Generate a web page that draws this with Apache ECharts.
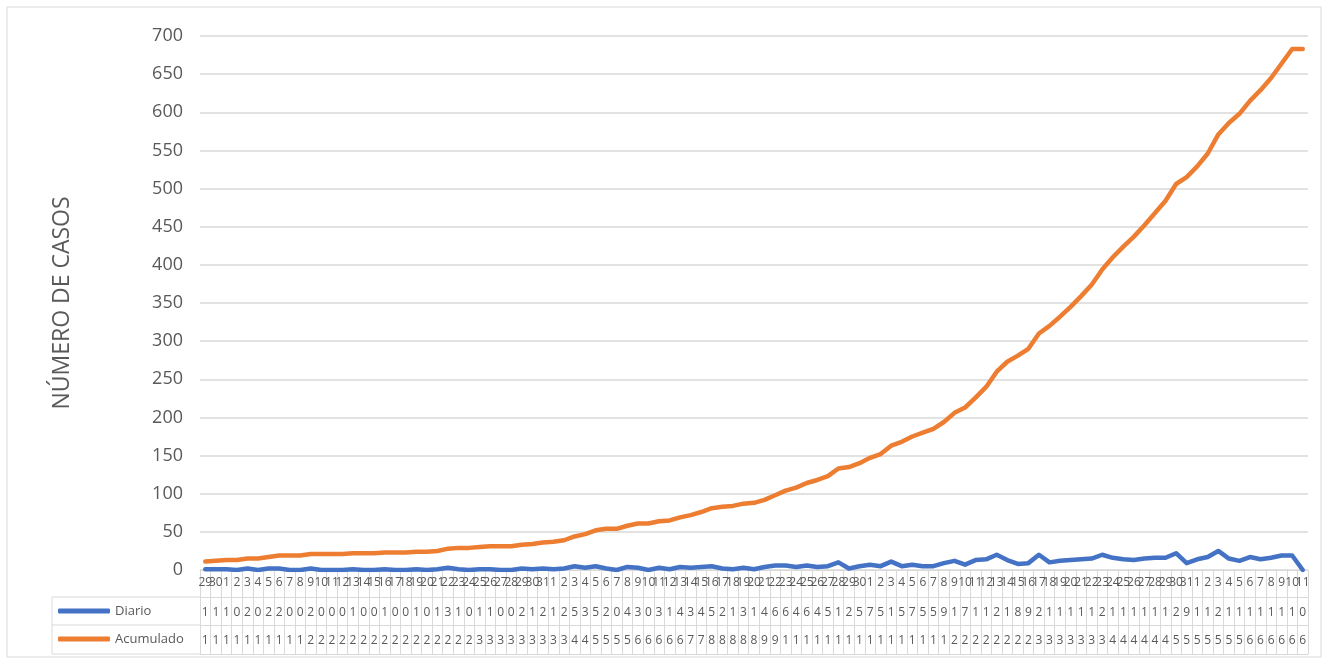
<!DOCTYPE html>
<html>
<head>
<meta charset="utf-8">
<script src="https://cdn.jsdelivr.net/npm/echarts@6.0.0/dist/echarts.min.js"></script>
<style>
html,body{margin:0;padding:0;background:#fff;}
#c{width:1328px;height:663px;}
</style>
</head>
<body>
<div id="c"></div>
<script>
// Category labels (days: 29 Apr – 11 Aug)
const fechas = [
  '29','30',
  '1','2','3','4','5','6','7','8','9','10','11','12','13','14','15','16','17','18','19','20','21','22','23','24','25','26','27','28','29','30','31',
  '1','2','3','4','5','6','7','8','9','10','11','12','13','14','15','16','17','18','19','20','21','22','23','24','25','26','27','28','29','30',
  '1','2','3','4','5','6','7','8','9','10','11','12','13','14','15','16','17','18','19','20','21','22','23','24','25','26','27','28','29','30','31',
  '1','2','3','4','5','6','7','8','9','10','11'
];

// Daily cases
const diario = [
  1,1,1,0,2,0,2,2,0,0,
  2,0,0,0,1,0,0,1,0,0,
  1,0,1,3,1,0,1,1,0,0,
  2,1,2,1,2,5,3,5,2,0,
  4,3,0,3,1,4,3,4,5,2,
  1,3,1,4,6,6,4,6,4,5,
  10,2,5,7,5,11,5,7,5,5,
  9,12,7,13,14,20,13,8,9,20,
  10,12,13,14,15,20,16,14,13,15,
  16,16,22,9,14,17,25,15,12,17,
  14,16,19,19,0
];

// Cumulative cases
const acumulado = [
  11,12,13,13,15,15,17,19,19,19,
  21,21,21,21,22,22,22,23,23,23,
  24,24,25,28,29,29,30,31,31,31,
  33,34,36,37,39,44,47,52,54,54,
  58,61,61,64,65,69,72,76,81,83,
  84,87,88,92,98,104,108,114,118,123,
  133,135,140,147,152,163,168,175,180,185,
  194,206,213,226,240,260,273,281,290,310,
  320,332,345,359,374,394,410,424,437,452,
  468,484,506,515,529,546,571,586,598,615,
  629,645,664,683,683
];

const seriesNames = ['Diario', 'Acumulado'];
const yAxisTitle = 'NÚMERO DE CASOS';

const FONT = "'Open Sans', sans-serif";
const GRAY = '#595959';
const LINE = '#d9d9d9';
const BLUE = '#4472C4';
const ORANGE = '#ED7D31';

const chart = echarts.init(document.getElementById('c'), null, {renderer: 'canvas'});

function tableAxis(offset, values) {
  return {
    type: 'category', data: fechas, position: 'bottom', offset: offset,
    axisLine: {show: true, lineStyle: {color: LINE, width: 1}},
    axisTick: {show: false},
    splitLine: {show: false},
    axisLabel: values ? {
      interval: 0, margin: 10, fontSize: 12, color: GRAY, fontFamily: FONT,
      width: 10, overflow: 'truncate', ellipsis: '',
      formatter: (v, i) => String(values[i])
    } : {show: false}
  };
}

const option = {
  animation: false,
  backgroundColor: '#fff',
  grid: {left: 200, right: 20, top: 36, bottom: 93},
  legend: {
    orient: 'vertical', left: 53, top: 598, padding: 5,
    itemWidth: 52, itemHeight: 5, itemGap: 12, icon: 'roundRect',
    textStyle: {fontSize: 13, color: GRAY, fontFamily: FONT, lineHeight: 16},
    data: seriesNames
  },
  xAxis: [
    {
      type: 'category', data: fechas, position: 'bottom', boundaryGap: true,
      axisLine: {show: true, lineStyle: {color: LINE, width: 1}},
      axisTick: {show: true, interval: 0, length: 84, lineStyle: {color: LINE, width: 1}},
      splitLine: {show: false},
      axisLabel: {interval: 0, margin: 7, fontSize: 12, color: GRAY, fontFamily: FONT}
    },
    tableAxis(27, diario),
    tableAxis(55, acumulado),
    tableAxis(84, null)
  ],
  yAxis: {
    type: 'value', min: 0, max: 700, interval: 50,
    name: yAxisTitle, nameLocation: 'middle', nameGap: 126, nameRotate: 90,
    nameTextStyle: {fontSize: 23, color: GRAY, fontFamily: FONT},
    axisLine: {show: false}, axisTick: {show: false},
    axisLabel: {fontSize: 18, color: GRAY, margin: 17, fontFamily: FONT},
    splitLine: {lineStyle: {color: LINE, width: 1.5}}
  },
  series: [
    {
      name: seriesNames[0], type: 'line', data: diario, xAxisIndex: 0,
      showSymbol: false, symbol: 'none',
      lineStyle: {color: BLUE, width: 4.5, cap: 'round', join: 'round'},
      itemStyle: {color: BLUE}
    },
    {
      name: seriesNames[1], type: 'line', data: acumulado, xAxisIndex: 0,
      showSymbol: false, symbol: 'none',
      lineStyle: {color: ORANGE, width: 4.5, cap: 'round', join: 'round'},
      itemStyle: {color: ORANGE}
    }
  ],
  graphic: [
    {type: 'rect', shape: {x: 7, y: 7, width: 1314, height: 650}, style: {fill: 'none', stroke: LINE, lineWidth: 1}, silent: true},
    {type: 'line', shape: {x1: 52, y1: 597, x2: 200, y2: 597}, style: {stroke: LINE, lineWidth: 1}, silent: true},
    {type: 'line', shape: {x1: 52, y1: 625, x2: 200, y2: 625}, style: {stroke: LINE, lineWidth: 1}, silent: true},
    {type: 'line', shape: {x1: 52, y1: 654, x2: 200, y2: 654}, style: {stroke: LINE, lineWidth: 1}, silent: true},
    {type: 'line', shape: {x1: 52, y1: 597, x2: 52, y2: 654}, style: {stroke: LINE, lineWidth: 1}, silent: true}
  ]
};

chart.setOption(option);
</script>
</body>
</html>
